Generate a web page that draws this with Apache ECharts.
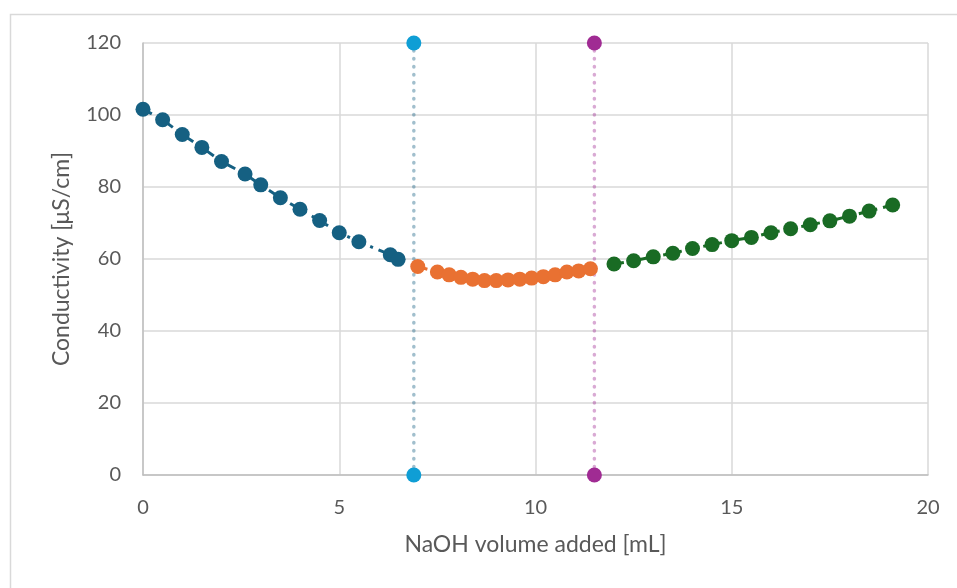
<!DOCTYPE html>
<html>
<head>
<meta charset="utf-8">
<title>Conductometric titration</title>
<script src="https://cdn.jsdelivr.net/npm/echarts@6/dist/echarts.min.js"></script>
<style>
  html, body { margin: 0; padding: 0; background: #fff; }
  #chart { width: 957px; height: 588px; }
</style>
</head>
<body>
<div id="chart"></div>
<script>
// NaOH volume [mL] and conductivity [µS/cm]
const blueX = [0, 0.5, 1, 1.5, 2, 2.6, 3, 3.5, 4, 4.5, 5, 5.5, 6.3, 6.5];
const blueY = [101.6, 98.7, 94.6, 91.0, 87.1, 83.6, 80.6, 77.0, 73.8, 70.7, 67.3, 64.8, 61.2, 59.9];

const orangeX = [7.0, 7.5, 7.8, 8.1, 8.4, 8.7, 9.0, 9.3, 9.6, 9.9, 10.2, 10.5, 10.8, 11.1, 11.4];
const orangeY = [57.9, 56.4, 55.6, 54.9, 54.4, 54.0, 54.0, 54.2, 54.4, 54.7, 55.1, 55.6, 56.4, 56.7, 57.3];

const greenX = [12, 12.5, 13, 13.5, 14, 14.5, 15, 15.5, 16, 16.5, 17, 17.5, 18, 18.5, 19.1];
const greenY = [58.6, 59.5, 60.6, 61.6, 62.9, 64.0, 65.1, 66.0, 67.3, 68.4, 69.5, 70.6, 71.9, 73.3, 75.0];

// equivalence points (vertical markers)
const eq1X = [6.9, 6.9];
const eq1Y = [0, 120];
const eq2X = [11.5, 11.5];
const eq2Y = [0, 120];

const xTicks = [0, 5, 10, 15, 20];
const yTicks = [0, 20, 40, 60, 80, 100, 120];

const pairs = (xs, ys) => xs.map((x, i) => [x, ys[i]]);

const fontFam = 'Lato, "Open Sans", sans-serif';

const dataSeries = (name, xs, ys, color) => ({
  name: name,
  type: 'line',
  data: pairs(xs, ys),
  symbol: 'circle',
  symbolSize: 15,
  clip: false,
  itemStyle: { color: color },
  lineStyle: { color: color, width: 3, type: [10, 6, 3, 6] },
  z: 3
});

const eqSeries = (name, xs, ys, color, lineColor) => ({
  name: name,
  type: 'line',
  data: pairs(xs, ys),
  symbol: 'circle',
  symbolSize: 15,
  clip: false,
  itemStyle: { color: color },
  lineStyle: { color: lineColor, width: 3.5, type: [0.5, 7.5], cap: 'round' },
  z: 2
});

const myChart = echarts.init(document.getElementById('chart'));

const option = {
  animation: false,
  backgroundColor: '#fff',
  textStyle: { fontFamily: fontFam },
  graphic: [
    {
      type: 'rect',
      shape: { x: 10.5, y: 14.5, width: 1000, height: 700 },
      style: { fill: 'none', stroke: '#d9d9d9', lineWidth: 1.5 },
      silent: true
    }
  ],
  grid: { left: 143, right: 29, top: 43, bottom: 113 },
  xAxis: {
    type: 'value',
    min: xTicks[0],
    max: xTicks[xTicks.length - 1],
    interval: 5,
    name: 'NaOH volume added [mL]',
    nameLocation: 'middle',
    nameGap: 58,
    nameMoveOverlap: false,
    nameTextStyle: { fontSize: 23, color: '#595959', fontFamily: fontFam },
    axisLine: { show: true, onZero: false, lineStyle: { color: '#bfbfbf', width: 1.5 } },
    axisTick: { show: false },
    axisLabel: { fontSize: 20, color: '#595959', margin: 23, fontFamily: fontFam },
    splitLine: { show: true, lineStyle: { color: '#d9d9d9', width: 1.5 } }
  },
  yAxis: {
    type: 'value',
    min: yTicks[0],
    max: yTicks[yTicks.length - 1],
    interval: 20,
    name: 'Conductivity [μS/cm]',
    nameLocation: 'middle',
    nameGap: 70,
    nameRotate: 90,
    nameTextStyle: { fontSize: 23, color: '#595959', fontFamily: fontFam },
    axisLine: { show: true, onZero: false, lineStyle: { color: '#bfbfbf', width: 1.5 } },
    axisTick: { show: false },
    axisLabel: { fontSize: 20, color: '#595959', margin: 22, fontFamily: fontFam },
    splitLine: { show: true, lineStyle: { color: '#d9d9d9', width: 1.5 } }
  },
  series: [
    eqSeries('EP1', eq1X, eq1Y, '#0f9ed5', 'rgba(21, 96, 130, 0.4)'),
    eqSeries('EP2', eq2X, eq2Y, '#a02b93', 'rgba(160, 43, 147, 0.4)'),
    dataSeries('before', blueX, blueY, '#156082'),
    dataSeries('middle', orangeX, orangeY, '#e97132'),
    dataSeries('after', greenX, greenY, '#196b24')
  ]
};

myChart.setOption(option);
</script>
</body>
</html>
